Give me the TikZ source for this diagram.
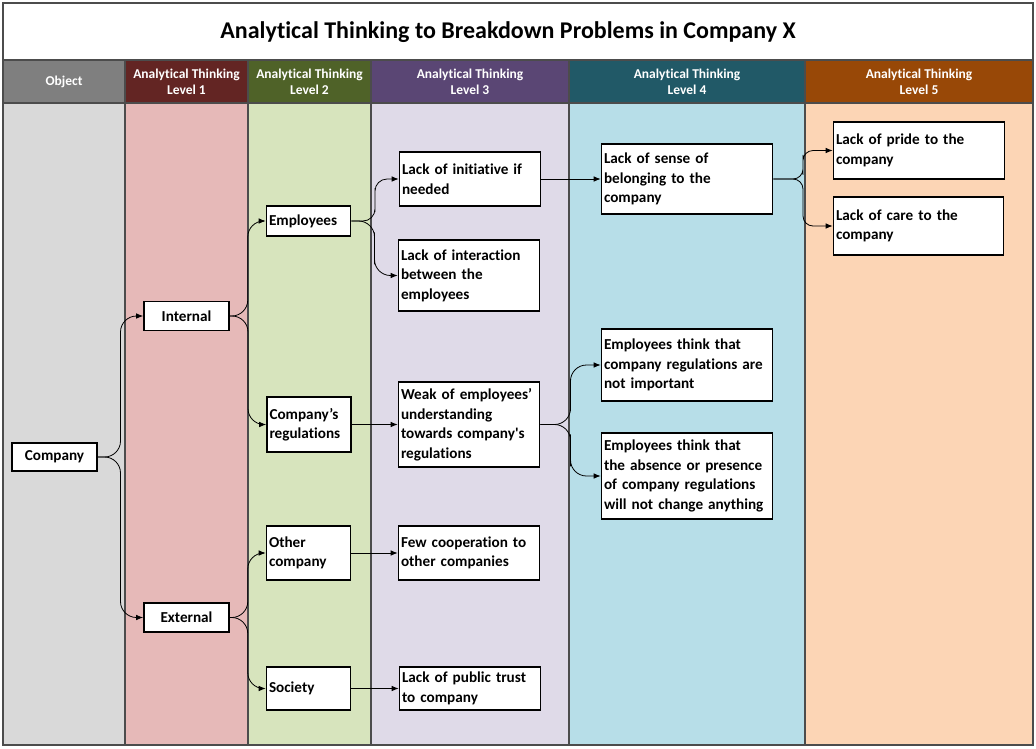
\documentclass[tikz,border=0pt]{standalone}
\usepackage{fontspec}
\setmainfont{Carlito}[Ligatures={TeX,NoCommon}]
\usepackage{tikz}
\usetikzlibrary{calc, positioning, arrows.meta}

\hyphenpenalty=10000
\exhyphenpenalty=10000

\definecolor{objhead}{HTML}{7F7F7F}
\definecolor{objbody}{HTML}{D9D9D9}
\definecolor{lonehead}{HTML}{632523}
\definecolor{lonebody}{HTML}{E6B9B8}
\definecolor{ltwohead}{HTML}{4F6228}
\definecolor{ltwobody}{HTML}{D7E4BD}
\definecolor{lthreehead}{HTML}{5A4674}
\definecolor{lthreebody}{HTML}{DFDAE8}
\definecolor{lfourhead}{HTML}{215967}
\definecolor{lfourbody}{HTML}{B7DEE8}
\definecolor{lfivehead}{HTML}{984807}
\definecolor{lfivebody}{HTML}{FCD5B5}

\begin{document}
\begin{tikzpicture}[x=1pt, y=-1pt, >={Latex[length=7pt, width=5.5pt]}]
	\tikzstyle{column} = [draw=black!70, line width=1.3pt]
	\tikzstyle{head} = [text=white, align=center, font=\fontsize{13.5}{16}\selectfont\bfseries]
	\tikzstyle{format} = [draw, line width=1.6pt, fill=white, rectangle, inner sep=2.5pt, font=\fontsize{15.2}{19.5}\selectfont\bfseries]
	\tikzstyle{item} = [format, align=left]
	\tikzstyle{elbow} = [rounded corners=16pt, to path={-| ($(\tikztostart.east)!.5!(\tikztotarget.west)$) |- (\tikztotarget) \tikztonodes}]

	\useasboundingbox (0,0) rectangle (1036,748);

	% title
	\draw[column, fill=white] (3,3) rectangle (1033,60);
	\node[font=\fontsize{24}{28}\selectfont\bfseries] (title) at (508,32) {Analytical Thinking to Breakdown Problems in Company X};

	% columns
	\foreach \xa/\xb/\hc/\bc/\name in {3/125/objhead/objbody/{Object},
		125/248/lonehead/lonebody/{Analytical Thinking\\Level 1},
		248/371/ltwohead/ltwobody/{Analytical Thinking\\Level 2},
		371/569/lthreehead/lthreebody/{Analytical Thinking\\Level 3},
		569/805/lfourhead/lfourbody/{Analytical Thinking\\Level 4},
		805/1033/lfivehead/lfivebody/{Analytical Thinking\\Level 5}}
	{
		\fill[\bc] (\xa,103) rectangle (\xb,745);
		\fill[\hc] (\xa,60) rectangle (\xb,103);
		\draw[column] (\xa,60) rectangle (\xb,745) (\xa,103) -- (\xb,103);
		\node[head] at ({(\xa+\xb)/2},81.5) {\name};
	}

	\path[->, line width=0.8pt]
		node[format, minimum width=85, minimum height=28] (company) at (54.5,457) {Company}
		node[format, minimum width=85, minimum height=29] (internal) at (186.5,316) {Internal}
		node[format, minimum width=85, minimum height=29] (external) at (186.5,617.5) {External}

		node[item, text width=79, minimum height=30] (employees) at (308.5,221) {Employees}
		node[item, text width=79, minimum height=55] (regs) at (309,424.5) {Company’s\\regulations}
		node[item, text width=79, minimum height=54] (other) at (308.5,553) {Other\\company}
		node[item, text width=79, minimum height=43] (society) at (308.5,688.5) {Society}

		node[item, text width=136, minimum height=54] (initiative) at (470,179) {Lack of initiative if\\needed}
		node[item, text width=136, minimum height=71] (interaction) at (469,275.5) {Lack of interaction\\between the\\employees}
		node[item, text width=136, minimum height=85] (weak) at (469,424.5) {Weak of employees’\\understanding\\towards company\textquotesingle s\\regulations}
		node[item, text width=136, minimum height=54] (fewcoop) at (469,553) {Few cooperation to\\other companies}
		node[item, text width=136, minimum height=43] (trust) at (470,688.5) {Lack of public trust\\to company}

		node[item, text width=166, minimum height=70] (belonging) at (687,179) {Lack of sense of\\belonging to the\\company}
		node[item, text width=166, minimum height=72] (notimportant) at (687,365) {Employees think that\\company regulations are\\not important}
		node[item, text width=166, minimum height=86] (nochange) at (687,476) {Employees think that\\the absence or presence\\of company regulations\\will not change anything}

		node[item, text width=166, minimum height=57] (pride) at (919,150.5) {Lack of pride to the\\company}
		node[item, text width=165, minimum height=58] (care) at (918.5,226) {Lack of care to the\\company}

		(company) edge[elbow] (internal)
		(company) edge[elbow] (external)
		(internal) edge[elbow] (employees)
		(internal) edge[elbow] (regs)
		(external) edge[elbow] (other)
		(external) edge[elbow] (society)
		(employees) edge[elbow, rounded corners=12pt] (initiative)
		(employees) edge[elbow] (interaction)
		(regs) edge (weak)
		(other) edge (fewcoop)
		(society) edge (trust)
		(initiative) edge (belonging)
		(weak) edge[elbow] (notimportant)
		(weak) edge[elbow] (nochange)
		(belonging) edge[elbow, rounded corners=10pt] (pride)
		(belonging) edge[elbow, rounded corners=10pt] (care)
	;
\end{tikzpicture}
\end{document}
